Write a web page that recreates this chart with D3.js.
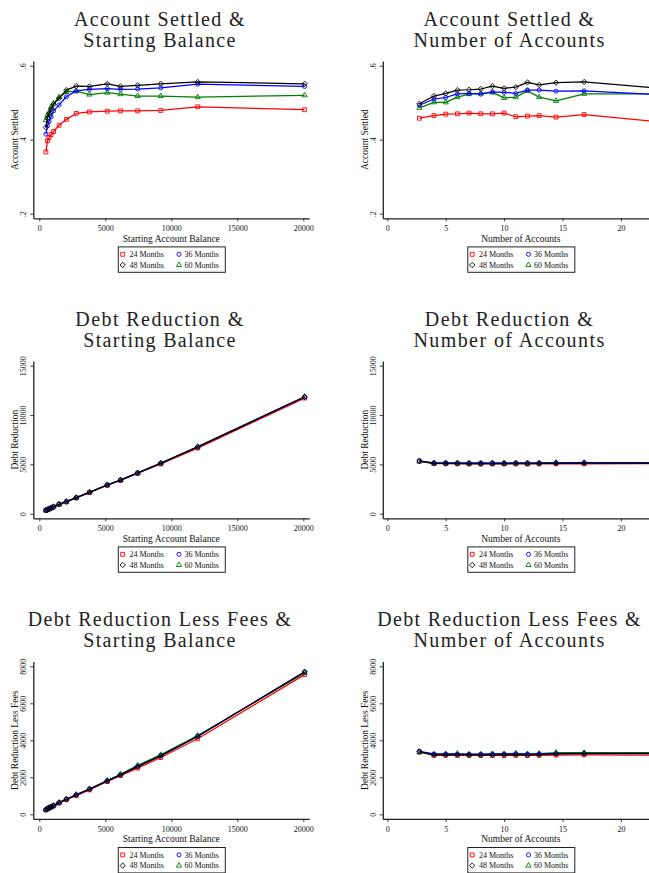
<!DOCTYPE html>
<html>
<head>
<meta charset="utf-8">
<script src="https://cdn.jsdelivr.net/npm/d3@7/dist/d3.min.js"></script>
<style>
  html, body { margin: 0; padding: 0; background: #ffffff; }
  svg { display: block; }
  text { font-family: "Liberation Serif", "Times New Roman", serif; fill: #111; }
</style>
</head>
<body>
<svg id="chart" width="649" height="873"></svg>
<script>
// ---------------- DATA ----------------
const seriesNames = ["24 Months", "36 Months", "48 Months", "60 Months"];

// x categories
const balanceX  = [500, 620, 740, 900, 1080, 1500, 2050, 2800, 3800, 5150, 6150, 7450, 9200, 12000, 20100];
const accountsX = [2.75, 4, 5, 6, 7, 8, 9, 10, 11, 12, 13, 14.45, 16.85, 23];

// tick values / labels
const balanceTicks  = [0, 5000, 10000, 15000, 20000];
const accountsTicks = [0, 5, 10, 15, 20];
const settledTicks  = [0.2, 0.4, 0.6];
const settledLabels = [".2", ".4", ".6"];
const debtTicks     = [0, 5000, 10000, 15000];
const feesTicks     = [0, 2000, 4000, 6000, 8000];

// Account settled vs starting balance  (24, 36, 48, 60 months)
const settledBal24 = [0.367, 0.397, 0.406, 0.414, 0.422, 0.439, 0.455, 0.471, 0.475, 0.477, 0.478, 0.478, 0.479, 0.489, 0.481];
const settledBal36 = [0.415, 0.437, 0.449, 0.462, 0.478, 0.494, 0.516, 0.532, 0.536, 0.538, 0.536, 0.537, 0.540, 0.550, 0.544];
const settledBal48 = [0.433, 0.458, 0.470, 0.483, 0.496, 0.512, 0.534, 0.545, 0.544, 0.551, 0.544, 0.547, 0.551, 0.556, 0.551];
const settledBal60 = [0.453, 0.467, 0.474, 0.489, 0.498, 0.515, 0.529, 0.531, 0.522, 0.527, 0.523, 0.518, 0.518, 0.515, 0.520];

// Account settled vs number of accounts
const settledAcc24 = [0.458, 0.465, 0.469, 0.470, 0.472, 0.470, 0.470, 0.472, 0.462, 0.464, 0.465, 0.461, 0.468, 0.449];
const settledAcc36 = [0.493, 0.510, 0.514, 0.524, 0.525, 0.523, 0.529, 0.528, 0.525, 0.534, 0.534, 0.531, 0.532, 0.522];
const settledAcc48 = [0.497, 0.518, 0.525, 0.534, 0.535, 0.537, 0.545, 0.539, 0.542, 0.555, 0.548, 0.554, 0.556, 0.540];
const settledAcc60 = [0.486, 0.501, 0.501, 0.515, 0.523, 0.525, 0.528, 0.513, 0.515, 0.532, 0.515, 0.505, 0.524, 0.524];

// Debt reduction vs starting balance
const debtBal24 = [340, 400, 470, 570, 690, 940, 1200, 1600, 2140, 2880, 3370, 4080, 5040, 6650, 11720];
const debtBal36 = [345, 405, 480, 580, 700, 955, 1220, 1625, 2170, 2910, 3410, 4130, 5110, 6770, 11840];
const debtBal48 = [345, 405, 480, 580, 700, 953, 1216, 1622, 2169, 2909, 3405, 4125, 5108, 6760, 11830];
const debtBal60 = [350, 410, 485, 585, 705, 958, 1222, 1628, 2175, 2915, 3415, 4140, 5120, 6800, 11850];

// Debt reduction vs number of accounts
const debtAcc24 = [5320, 5080, 5070, 5060, 5050, 5040, 5050, 5050, 5050, 5040, 5050, 5060, 5060, 5070];
const debtAcc36 = [5350, 5160, 5160, 5150, 5140, 5140, 5150, 5140, 5150, 5150, 5150, 5160, 5170, 5160];
const debtAcc48 = [5340, 5110, 5100, 5090, 5080, 5070, 5080, 5080, 5090, 5080, 5090, 5110, 5120, 5130];
const debtAcc60 = [5300, 5100, 5100, 5110, 5100, 5090, 5110, 5100, 5130, 5100, 5120, 5180, 5170, 5190];

// Debt reduction less fees vs starting balance
const feesBal24 = [240, 290, 340, 390, 450, 610, 790, 1010, 1320, 1770, 2090, 2493, 3068, 4081, 7550];
const feesBal36 = [250, 302, 352, 403, 468, 632, 815, 1050, 1360, 1810, 2135, 2590, 3170, 4220, 7700];
const feesBal48 = [249, 300, 350, 400, 466, 629, 813, 1046, 1355, 1805, 2130, 2580, 3160, 4206, 7696];
const feesBal60 = [255, 307, 357, 408, 475, 640, 828, 1065, 1380, 1830, 2160, 2650, 3210, 4260, 7640];

// Debt reduction less fees vs number of accounts
const feesAcc24 = [3370, 3190, 3190, 3185, 3180, 3180, 3185, 3185, 3190, 3180, 3190, 3200, 3210, 3200];
const feesAcc36 = [3400, 3260, 3260, 3250, 3250, 3250, 3260, 3260, 3270, 3260, 3270, 3280, 3290, 3280];
const feesAcc48 = [3393, 3214, 3220, 3210, 3210, 3200, 3210, 3210, 3220, 3210, 3220, 3260, 3280, 3290];
const feesAcc60 = [3350, 3230, 3250, 3280, 3240, 3240, 3260, 3260, 3300, 3250, 3280, 3340, 3330, 3330];

// ---------------- STYLE ----------------
const seriesColors = ["#ff0000", "#0000ff", "#000000", "#007f00"];
const drawOrder = [0, 3, 1, 2];

const svg = d3.select("#chart");

const panels = [
  { row: 0, col: 0, title: ["Account Settled &", "Starting Balance"], xTitle: "Starting Account Balance", yTitle: "Account Settled",
    xs: balanceX, ys: [settledBal24, settledBal36, settledBal48, settledBal60], xTicks: balanceTicks, yTicks: settledTicks, yLabels: settledLabels },
  { row: 0, col: 1, title: ["Account Settled &", "Number of Accounts"], xTitle: "Number of Accounts", yTitle: "Account Settled",
    xs: accountsX, ys: [settledAcc24, settledAcc36, settledAcc48, settledAcc60], xTicks: accountsTicks, yTicks: settledTicks, yLabels: settledLabels },
  { row: 1, col: 0, title: ["Debt Reduction &", "Starting Balance"], xTitle: "Starting Account Balance", yTitle: "Debt Reduction",
    xs: balanceX, ys: [debtBal24, debtBal36, debtBal48, debtBal60], xTicks: balanceTicks, yTicks: debtTicks, yLabels: debtTicks.map(String) },
  { row: 1, col: 1, title: ["Debt Reduction &", "Number of Accounts"], xTitle: "Number of Accounts", yTitle: "Debt Reduction",
    xs: accountsX, ys: [debtAcc24, debtAcc36, debtAcc48, debtAcc60], xTicks: accountsTicks, yTicks: debtTicks, yLabels: debtTicks.map(String) },
  { row: 2, col: 0, title: ["Debt Reduction Less Fees &", "Starting Balance"], xTitle: "Starting Account Balance", yTitle: "Debt Reduction Less Fees",
    xs: balanceX, ys: [feesBal24, feesBal36, feesBal48, feesBal60], xTicks: balanceTicks, yTicks: feesTicks, yLabels: feesTicks.map(String) },
  { row: 2, col: 1, title: ["Debt Reduction Less Fees &", "Number of Accounts"], xTitle: "Number of Accounts", yTitle: "Debt Reduction Less Fees",
    xs: accountsX, ys: [feesAcc24, feesAcc36, feesAcc48, feesAcc60], xTicks: accountsTicks, yTicks: feesTicks, yLabels: feesTicks.map(String) }
];

// layout (panel-local px)
const colX = [0, 349.5];
const rowY = [0, 300, 600.6];
const plotL = 33.3, plotR = 309.3, plotT = 61, plotB = 218.3;
const tickPix = [[39.3, 303.3], [37.8, 271.4]];   // first/last x tick positions per column
const yTickLo = 213.7, yTickHi = 65.7;

// marker shapes
const diamond = { draw(ctx, size) { const r = Math.sqrt(size / 2); ctx.moveTo(0, -r); ctx.lineTo(r, 0); ctx.lineTo(0, r); ctx.lineTo(-r, 0); ctx.closePath(); } };
const symbolTypes = [d3.symbolSquare, d3.symbolCircle, diamond, d3.symbolTriangle];
const symbolSizes = [15, 13, 14, 12];

function markerPath(i) { return d3.symbol().type(symbolTypes[i]).size(symbolSizes[i])(); }

panels.forEach(p => {
  const g = svg.append("g").attr("transform", `translate(${colX[p.col]},${rowY[p.row]})`);

  // x scale: map first/last tick to measured px, then extend to plot edges
  const xt = d3.scaleLinear().domain([p.xTicks[0], p.xTicks[p.xTicks.length - 1]]).range(tickPix[p.col]);
  const x = d3.scaleLinear().domain([xt.invert(plotL), xt.invert(plotR)]).range([plotL, plotR]);
  const yt = d3.scaleLinear().domain([p.yTicks[0], p.yTicks[p.yTicks.length - 1]]).range([yTickLo, yTickHi]);
  const y = d3.scaleLinear().domain([yt.invert(plotB), yt.invert(plotT)]).range([plotB, plotT]);

  // title
  p.title.forEach((t, i) => {
    const tx = g.append("text")
      .attr("x", 159.3).attr("y", i === 0 ? 25.5 : 46.5)
      .attr("text-anchor", "middle")
      .style("font-family", "Liberation Serif, serif")
      .style("font-weight", "normal")
      .style("font-size", "20px")
      .style("fill", "#222")
      .text(t);
    const L = tx.node().getComputedTextLength();
    tx.attr("textLength", L * 1.145).attr("lengthAdjust", "spacing");
  });

  // series (lines then markers)
  const line = d3.line().x((d, i) => x(p.xs[i])).y(d => y(d));
  drawOrder.forEach(si => {
    const vals = p.ys[si];
    g.append("path").datum(vals)
      .attr("d", line)
      .attr("fill", "none")
      .attr("stroke", seriesColors[si])
      .attr("stroke-width", 1.25)
      .attr("stroke-linejoin", "round");
    g.append("g").selectAll("path").data(vals).join("path")
      .attr("d", markerPath(si))
      .attr("transform", (d, i) => `translate(${x(p.xs[i])},${y(d)})`)
      .attr("fill", "none")
      .attr("stroke", seriesColors[si])
      .attr("stroke-width", 0.9);
  });

  // x axis
  const xa = g.append("g").attr("transform", `translate(0,${plotB})`)
    .call(d3.axisBottom(x).tickValues(p.xTicks).tickSize(3).tickSizeOuter(0).tickPadding(4).tickFormat(d3.format("d")));
  xa.selectAll("text").style("font-size", "8px").style("font-family", "Liberation Serif, serif").attr("fill", "#222");
  xa.select(".domain").attr("stroke", "#222").attr("stroke-width", 1.3);
  xa.selectAll(".tick line").attr("stroke", "#222").attr("stroke-width", 0.9);

  // y axis
  const ya = g.append("g").attr("transform", `translate(${plotL},0)`)
    .call(d3.axisLeft(y).tickValues(p.yTicks).tickSize(3).tickSizeOuter(0).tickFormat((d, i) => p.yLabels[i]));
  ya.selectAll("text")
    .attr("x", null).attr("dy", null)
    .attr("text-anchor", "middle")
    .attr("transform", "translate(-7.3,0) rotate(-90)")
    .style("font-size", "8px").style("font-family", "Liberation Serif, serif").attr("fill", "#222");
  ya.select(".domain").attr("stroke", "#222").attr("stroke-width", 1.3);
  ya.selectAll(".tick line").attr("stroke", "#222").attr("stroke-width", 0.9);

  // axis titles
  g.append("text").attr("x", (plotL + plotR) / 2).attr("y", 241.5)
    .attr("text-anchor", "middle").style("font-size", "9.5px").text(p.xTitle);
  g.append("text").attr("transform", `translate(18,${(plotT + plotB) / 2}) rotate(-90)`)
    .attr("text-anchor", "middle").style("font-size", "9.5px").text(p.yTitle);

  // legend
  const lg = g.append("g");
  lg.append("rect").attr("x", 118.3).attr("y", 246.9).attr("width", 107).attr("height", 25.4)
    .attr("fill", "#fff").attr("stroke", "#222").attr("stroke-width", 1);
  const lx = [[122.7, 129.5], [179, 184.5]];
  const lyRow = [254.3, 265];
  seriesNames.forEach((nm, si) => {
    const c = si % 2, r = Math.floor(si / 2);
    lg.append("path").attr("d", markerPath(si))
      .attr("transform", `translate(${lx[c][0]},${lyRow[r]})`)
      .attr("fill", "none").attr("stroke", seriesColors[si]).attr("stroke-width", 0.9);
    lg.append("text").attr("x", lx[c][1]).attr("y", lyRow[r] + 2.8)
      .style("font-size", "8px").text(nm);
  });
});
</script>
</body>
</html>
